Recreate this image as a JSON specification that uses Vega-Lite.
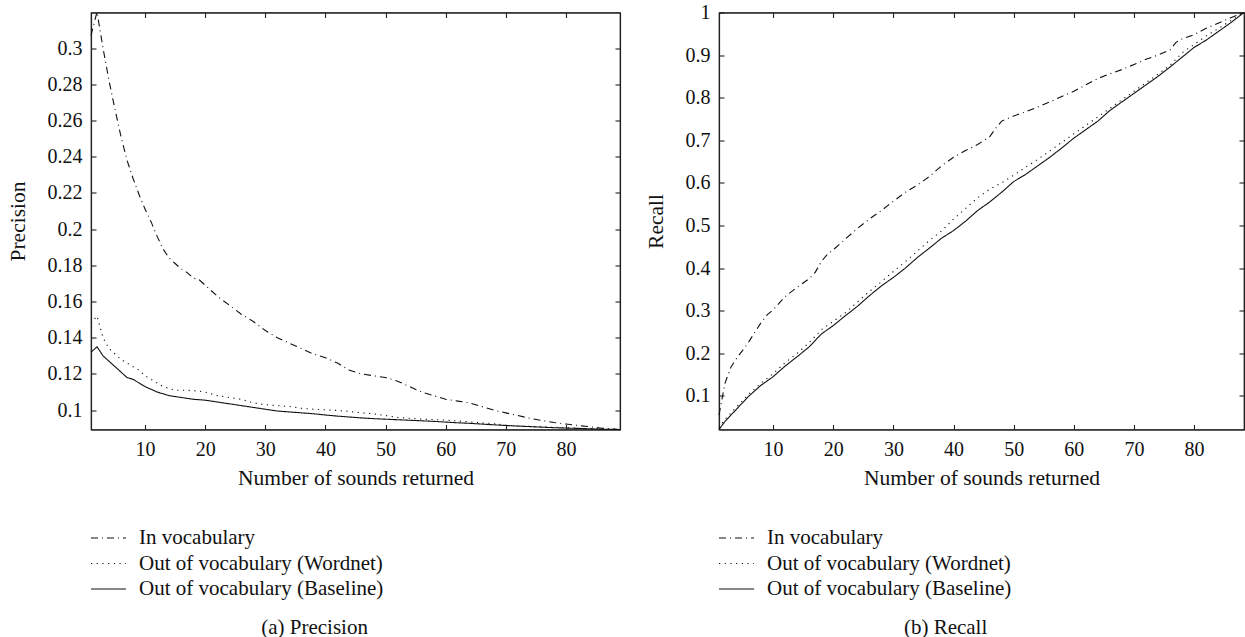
{
  "$schema": "https://vega.github.io/schema/vega-lite/v6.json",
  "padding": {"left": 6, "top": 1.5, "right": 0, "bottom": 0},
  "background": "white",
  "spacing": 21,
  "config": {
    "font": "Liberation Serif",
    "view": {"stroke": "#222", "strokeWidth": 1.2},
    "axis": {
      "domainColor": "#222", "tickColor": "#222", "labelColor": "#111", "titleColor": "#111",
      "labelFont": "Liberation Serif", "titleFont": "Liberation Serif",
      "labelFontSize": 20, "titleFontSize": 21.5, "titleFontWeight": "normal",
      "grid": false, "tickSize": -5, "tickWidth": 1.1, "domainWidth": 1.2
    },
    "legend": {
      "labelFont": "Liberation Serif", "labelFontSize": 21, "labelColor": "#111",
      "labelLimit": 400, "rowPadding": 1.5
    },
    "title": {"font": "Liberation Serif", "fontSize": 21, "fontWeight": "normal", "color": "#111"}
  },
  "datasets": {
    "precision": [
      {"n": 1, "v": 0.307, "s": "In vocabulary"},
      {"n": 2, "v": 0.320, "s": "In vocabulary"},
      {"n": 3, "v": 0.300, "s": "In vocabulary"},
      {"n": 4, "v": 0.282, "s": "In vocabulary"},
      {"n": 5, "v": 0.266, "s": "In vocabulary"},
      {"n": 6, "v": 0.251, "s": "In vocabulary"},
      {"n": 7, "v": 0.238, "s": "In vocabulary"},
      {"n": 8, "v": 0.228, "s": "In vocabulary"},
      {"n": 9, "v": 0.219, "s": "In vocabulary"},
      {"n": 10, "v": 0.211, "s": "In vocabulary"},
      {"n": 11, "v": 0.204, "s": "In vocabulary"},
      {"n": 12, "v": 0.196, "s": "In vocabulary"},
      {"n": 13, "v": 0.189, "s": "In vocabulary"},
      {"n": 14, "v": 0.184, "s": "In vocabulary"},
      {"n": 15, "v": 0.181, "s": "In vocabulary"},
      {"n": 16, "v": 0.178, "s": "In vocabulary"},
      {"n": 17, "v": 0.176, "s": "In vocabulary"},
      {"n": 18, "v": 0.173, "s": "In vocabulary"},
      {"n": 19, "v": 0.172, "s": "In vocabulary"},
      {"n": 20, "v": 0.169, "s": "In vocabulary"},
      {"n": 22, "v": 0.163, "s": "In vocabulary"},
      {"n": 24, "v": 0.158, "s": "In vocabulary"},
      {"n": 26, "v": 0.153, "s": "In vocabulary"},
      {"n": 28, "v": 0.149, "s": "In vocabulary"},
      {"n": 30, "v": 0.144, "s": "In vocabulary"},
      {"n": 32, "v": 0.140, "s": "In vocabulary"},
      {"n": 34, "v": 0.137, "s": "In vocabulary"},
      {"n": 36, "v": 0.134, "s": "In vocabulary"},
      {"n": 38, "v": 0.131, "s": "In vocabulary"},
      {"n": 40, "v": 0.129, "s": "In vocabulary"},
      {"n": 42, "v": 0.126, "s": "In vocabulary"},
      {"n": 44, "v": 0.122, "s": "In vocabulary"},
      {"n": 46, "v": 0.120, "s": "In vocabulary"},
      {"n": 48, "v": 0.119, "s": "In vocabulary"},
      {"n": 50, "v": 0.118, "s": "In vocabulary"},
      {"n": 52, "v": 0.116, "s": "In vocabulary"},
      {"n": 54, "v": 0.113, "s": "In vocabulary"},
      {"n": 56, "v": 0.110, "s": "In vocabulary"},
      {"n": 58, "v": 0.108, "s": "In vocabulary"},
      {"n": 60, "v": 0.106, "s": "In vocabulary"},
      {"n": 62, "v": 0.105, "s": "In vocabulary"},
      {"n": 64, "v": 0.104, "s": "In vocabulary"},
      {"n": 66, "v": 0.102, "s": "In vocabulary"},
      {"n": 68, "v": 0.100, "s": "In vocabulary"},
      {"n": 70, "v": 0.0985, "s": "In vocabulary"},
      {"n": 72, "v": 0.097, "s": "In vocabulary"},
      {"n": 74, "v": 0.0955, "s": "In vocabulary"},
      {"n": 76, "v": 0.0943, "s": "In vocabulary"},
      {"n": 78, "v": 0.0932, "s": "In vocabulary"},
      {"n": 80, "v": 0.0923, "s": "In vocabulary"},
      {"n": 82, "v": 0.0915, "s": "In vocabulary"},
      {"n": 84, "v": 0.0908, "s": "In vocabulary"},
      {"n": 86, "v": 0.0900, "s": "In vocabulary"},
      {"n": 89, "v": 0.0893, "s": "In vocabulary"},
      {"n": 1, "v": 0.148, "s": "Out of vocabulary (Wordnet)"},
      {"n": 2, "v": 0.152, "s": "Out of vocabulary (Wordnet)"},
      {"n": 3, "v": 0.140, "s": "Out of vocabulary (Wordnet)"},
      {"n": 4, "v": 0.134, "s": "Out of vocabulary (Wordnet)"},
      {"n": 5, "v": 0.131, "s": "Out of vocabulary (Wordnet)"},
      {"n": 6, "v": 0.128, "s": "Out of vocabulary (Wordnet)"},
      {"n": 7, "v": 0.126, "s": "Out of vocabulary (Wordnet)"},
      {"n": 8, "v": 0.124, "s": "Out of vocabulary (Wordnet)"},
      {"n": 9, "v": 0.122, "s": "Out of vocabulary (Wordnet)"},
      {"n": 10, "v": 0.119, "s": "Out of vocabulary (Wordnet)"},
      {"n": 11, "v": 0.117, "s": "Out of vocabulary (Wordnet)"},
      {"n": 12, "v": 0.115, "s": "Out of vocabulary (Wordnet)"},
      {"n": 13, "v": 0.113, "s": "Out of vocabulary (Wordnet)"},
      {"n": 14, "v": 0.112, "s": "Out of vocabulary (Wordnet)"},
      {"n": 15, "v": 0.111, "s": "Out of vocabulary (Wordnet)"},
      {"n": 17, "v": 0.111, "s": "Out of vocabulary (Wordnet)"},
      {"n": 19, "v": 0.1105, "s": "Out of vocabulary (Wordnet)"},
      {"n": 20, "v": 0.110, "s": "Out of vocabulary (Wordnet)"},
      {"n": 22, "v": 0.108, "s": "Out of vocabulary (Wordnet)"},
      {"n": 24, "v": 0.107, "s": "Out of vocabulary (Wordnet)"},
      {"n": 26, "v": 0.106, "s": "Out of vocabulary (Wordnet)"},
      {"n": 28, "v": 0.104, "s": "Out of vocabulary (Wordnet)"},
      {"n": 30, "v": 0.103, "s": "Out of vocabulary (Wordnet)"},
      {"n": 32, "v": 0.1025, "s": "Out of vocabulary (Wordnet)"},
      {"n": 34, "v": 0.102, "s": "Out of vocabulary (Wordnet)"},
      {"n": 36, "v": 0.101, "s": "Out of vocabulary (Wordnet)"},
      {"n": 38, "v": 0.1005, "s": "Out of vocabulary (Wordnet)"},
      {"n": 40, "v": 0.1002, "s": "Out of vocabulary (Wordnet)"},
      {"n": 42, "v": 0.0998, "s": "Out of vocabulary (Wordnet)"},
      {"n": 44, "v": 0.0993, "s": "Out of vocabulary (Wordnet)"},
      {"n": 46, "v": 0.0985, "s": "Out of vocabulary (Wordnet)"},
      {"n": 48, "v": 0.098, "s": "Out of vocabulary (Wordnet)"},
      {"n": 50, "v": 0.097, "s": "Out of vocabulary (Wordnet)"},
      {"n": 52, "v": 0.096, "s": "Out of vocabulary (Wordnet)"},
      {"n": 54, "v": 0.0955, "s": "Out of vocabulary (Wordnet)"},
      {"n": 56, "v": 0.095, "s": "Out of vocabulary (Wordnet)"},
      {"n": 58, "v": 0.0948, "s": "Out of vocabulary (Wordnet)"},
      {"n": 60, "v": 0.0945, "s": "Out of vocabulary (Wordnet)"},
      {"n": 62, "v": 0.094, "s": "Out of vocabulary (Wordnet)"},
      {"n": 64, "v": 0.0935, "s": "Out of vocabulary (Wordnet)"},
      {"n": 66, "v": 0.093, "s": "Out of vocabulary (Wordnet)"},
      {"n": 68, "v": 0.0925, "s": "Out of vocabulary (Wordnet)"},
      {"n": 70, "v": 0.0918, "s": "Out of vocabulary (Wordnet)"},
      {"n": 72, "v": 0.0912, "s": "Out of vocabulary (Wordnet)"},
      {"n": 74, "v": 0.091, "s": "Out of vocabulary (Wordnet)"},
      {"n": 76, "v": 0.0907, "s": "Out of vocabulary (Wordnet)"},
      {"n": 78, "v": 0.0905, "s": "Out of vocabulary (Wordnet)"},
      {"n": 80, "v": 0.0903, "s": "Out of vocabulary (Wordnet)"},
      {"n": 82, "v": 0.0900, "s": "Out of vocabulary (Wordnet)"},
      {"n": 84, "v": 0.0898, "s": "Out of vocabulary (Wordnet)"},
      {"n": 86, "v": 0.0895, "s": "Out of vocabulary (Wordnet)"},
      {"n": 89, "v": 0.0893, "s": "Out of vocabulary (Wordnet)"},
      {"n": 1, "v": 0.132, "s": "Out of vocabulary (Baseline)"},
      {"n": 2, "v": 0.135, "s": "Out of vocabulary (Baseline)"},
      {"n": 3, "v": 0.130, "s": "Out of vocabulary (Baseline)"},
      {"n": 4, "v": 0.127, "s": "Out of vocabulary (Baseline)"},
      {"n": 5, "v": 0.124, "s": "Out of vocabulary (Baseline)"},
      {"n": 6, "v": 0.121, "s": "Out of vocabulary (Baseline)"},
      {"n": 7, "v": 0.118, "s": "Out of vocabulary (Baseline)"},
      {"n": 8, "v": 0.117, "s": "Out of vocabulary (Baseline)"},
      {"n": 9, "v": 0.115, "s": "Out of vocabulary (Baseline)"},
      {"n": 10, "v": 0.113, "s": "Out of vocabulary (Baseline)"},
      {"n": 11, "v": 0.1115, "s": "Out of vocabulary (Baseline)"},
      {"n": 12, "v": 0.110, "s": "Out of vocabulary (Baseline)"},
      {"n": 13, "v": 0.109, "s": "Out of vocabulary (Baseline)"},
      {"n": 14, "v": 0.108, "s": "Out of vocabulary (Baseline)"},
      {"n": 15, "v": 0.1075, "s": "Out of vocabulary (Baseline)"},
      {"n": 16, "v": 0.107, "s": "Out of vocabulary (Baseline)"},
      {"n": 18, "v": 0.106, "s": "Out of vocabulary (Baseline)"},
      {"n": 20, "v": 0.1055, "s": "Out of vocabulary (Baseline)"},
      {"n": 22, "v": 0.1045, "s": "Out of vocabulary (Baseline)"},
      {"n": 24, "v": 0.1035, "s": "Out of vocabulary (Baseline)"},
      {"n": 26, "v": 0.1025, "s": "Out of vocabulary (Baseline)"},
      {"n": 28, "v": 0.1015, "s": "Out of vocabulary (Baseline)"},
      {"n": 30, "v": 0.1005, "s": "Out of vocabulary (Baseline)"},
      {"n": 32, "v": 0.0995, "s": "Out of vocabulary (Baseline)"},
      {"n": 34, "v": 0.099, "s": "Out of vocabulary (Baseline)"},
      {"n": 36, "v": 0.0985, "s": "Out of vocabulary (Baseline)"},
      {"n": 38, "v": 0.098, "s": "Out of vocabulary (Baseline)"},
      {"n": 40, "v": 0.0973, "s": "Out of vocabulary (Baseline)"},
      {"n": 42, "v": 0.0967, "s": "Out of vocabulary (Baseline)"},
      {"n": 44, "v": 0.0962, "s": "Out of vocabulary (Baseline)"},
      {"n": 46, "v": 0.0957, "s": "Out of vocabulary (Baseline)"},
      {"n": 48, "v": 0.0953, "s": "Out of vocabulary (Baseline)"},
      {"n": 50, "v": 0.095, "s": "Out of vocabulary (Baseline)"},
      {"n": 52, "v": 0.0947, "s": "Out of vocabulary (Baseline)"},
      {"n": 54, "v": 0.0944, "s": "Out of vocabulary (Baseline)"},
      {"n": 56, "v": 0.0941, "s": "Out of vocabulary (Baseline)"},
      {"n": 58, "v": 0.0938, "s": "Out of vocabulary (Baseline)"},
      {"n": 60, "v": 0.0934, "s": "Out of vocabulary (Baseline)"},
      {"n": 62, "v": 0.0930, "s": "Out of vocabulary (Baseline)"},
      {"n": 64, "v": 0.0927, "s": "Out of vocabulary (Baseline)"},
      {"n": 66, "v": 0.0923, "s": "Out of vocabulary (Baseline)"},
      {"n": 68, "v": 0.0919, "s": "Out of vocabulary (Baseline)"},
      {"n": 70, "v": 0.0915, "s": "Out of vocabulary (Baseline)"},
      {"n": 72, "v": 0.0912, "s": "Out of vocabulary (Baseline)"},
      {"n": 74, "v": 0.0909, "s": "Out of vocabulary (Baseline)"},
      {"n": 76, "v": 0.0906, "s": "Out of vocabulary (Baseline)"},
      {"n": 78, "v": 0.0903, "s": "Out of vocabulary (Baseline)"},
      {"n": 80, "v": 0.0901, "s": "Out of vocabulary (Baseline)"},
      {"n": 82, "v": 0.0899, "s": "Out of vocabulary (Baseline)"},
      {"n": 84, "v": 0.0897, "s": "Out of vocabulary (Baseline)"},
      {"n": 86, "v": 0.0895, "s": "Out of vocabulary (Baseline)"},
      {"n": 89, "v": 0.0893, "s": "Out of vocabulary (Baseline)"}
    ],
    "recall": [
      {"n": 1, "v": 0.055, "s": "In vocabulary"},
      {"n": 2, "v": 0.13, "s": "In vocabulary"},
      {"n": 3, "v": 0.168, "s": "In vocabulary"},
      {"n": 4, "v": 0.19, "s": "In vocabulary"},
      {"n": 5, "v": 0.208, "s": "In vocabulary"},
      {"n": 6, "v": 0.228, "s": "In vocabulary"},
      {"n": 7, "v": 0.25, "s": "In vocabulary"},
      {"n": 8, "v": 0.272, "s": "In vocabulary"},
      {"n": 9, "v": 0.29, "s": "In vocabulary"},
      {"n": 10, "v": 0.302, "s": "In vocabulary"},
      {"n": 12, "v": 0.333, "s": "In vocabulary"},
      {"n": 14, "v": 0.355, "s": "In vocabulary"},
      {"n": 16, "v": 0.375, "s": "In vocabulary"},
      {"n": 17, "v": 0.39, "s": "In vocabulary"},
      {"n": 18, "v": 0.415, "s": "In vocabulary"},
      {"n": 19, "v": 0.432, "s": "In vocabulary"},
      {"n": 20, "v": 0.443, "s": "In vocabulary"},
      {"n": 22, "v": 0.468, "s": "In vocabulary"},
      {"n": 24, "v": 0.493, "s": "In vocabulary"},
      {"n": 26, "v": 0.515, "s": "In vocabulary"},
      {"n": 28, "v": 0.535, "s": "In vocabulary"},
      {"n": 30, "v": 0.557, "s": "In vocabulary"},
      {"n": 32, "v": 0.578, "s": "In vocabulary"},
      {"n": 34, "v": 0.595, "s": "In vocabulary"},
      {"n": 36, "v": 0.615, "s": "In vocabulary"},
      {"n": 38, "v": 0.64, "s": "In vocabulary"},
      {"n": 40, "v": 0.66, "s": "In vocabulary"},
      {"n": 42, "v": 0.676, "s": "In vocabulary"},
      {"n": 44, "v": 0.69, "s": "In vocabulary"},
      {"n": 46, "v": 0.708, "s": "In vocabulary"},
      {"n": 47, "v": 0.728, "s": "In vocabulary"},
      {"n": 48, "v": 0.745, "s": "In vocabulary"},
      {"n": 50, "v": 0.757, "s": "In vocabulary"},
      {"n": 52, "v": 0.767, "s": "In vocabulary"},
      {"n": 54, "v": 0.778, "s": "In vocabulary"},
      {"n": 56, "v": 0.79, "s": "In vocabulary"},
      {"n": 58, "v": 0.803, "s": "In vocabulary"},
      {"n": 60, "v": 0.815, "s": "In vocabulary"},
      {"n": 62, "v": 0.83, "s": "In vocabulary"},
      {"n": 64, "v": 0.845, "s": "In vocabulary"},
      {"n": 66, "v": 0.856, "s": "In vocabulary"},
      {"n": 68, "v": 0.866, "s": "In vocabulary"},
      {"n": 70, "v": 0.878, "s": "In vocabulary"},
      {"n": 72, "v": 0.89, "s": "In vocabulary"},
      {"n": 74, "v": 0.9, "s": "In vocabulary"},
      {"n": 76, "v": 0.912, "s": "In vocabulary"},
      {"n": 77, "v": 0.93, "s": "In vocabulary"},
      {"n": 78, "v": 0.938, "s": "In vocabulary"},
      {"n": 80, "v": 0.948, "s": "In vocabulary"},
      {"n": 82, "v": 0.963, "s": "In vocabulary"},
      {"n": 84, "v": 0.975, "s": "In vocabulary"},
      {"n": 86, "v": 0.987, "s": "In vocabulary"},
      {"n": 88.3, "v": 1.0, "s": "In vocabulary"},
      {"n": 1, "v": 0.025, "s": "Out of vocabulary (Wordnet)"},
      {"n": 2, "v": 0.045, "s": "Out of vocabulary (Wordnet)"},
      {"n": 4, "v": 0.075, "s": "Out of vocabulary (Wordnet)"},
      {"n": 6, "v": 0.105, "s": "Out of vocabulary (Wordnet)"},
      {"n": 8, "v": 0.13, "s": "Out of vocabulary (Wordnet)"},
      {"n": 10, "v": 0.152, "s": "Out of vocabulary (Wordnet)"},
      {"n": 12, "v": 0.178, "s": "Out of vocabulary (Wordnet)"},
      {"n": 14, "v": 0.2, "s": "Out of vocabulary (Wordnet)"},
      {"n": 16, "v": 0.225, "s": "Out of vocabulary (Wordnet)"},
      {"n": 18, "v": 0.255, "s": "Out of vocabulary (Wordnet)"},
      {"n": 20, "v": 0.275, "s": "Out of vocabulary (Wordnet)"},
      {"n": 22, "v": 0.295, "s": "Out of vocabulary (Wordnet)"},
      {"n": 24, "v": 0.32, "s": "Out of vocabulary (Wordnet)"},
      {"n": 26, "v": 0.345, "s": "Out of vocabulary (Wordnet)"},
      {"n": 28, "v": 0.368, "s": "Out of vocabulary (Wordnet)"},
      {"n": 30, "v": 0.392, "s": "Out of vocabulary (Wordnet)"},
      {"n": 32, "v": 0.415, "s": "Out of vocabulary (Wordnet)"},
      {"n": 34, "v": 0.44, "s": "Out of vocabulary (Wordnet)"},
      {"n": 36, "v": 0.465, "s": "Out of vocabulary (Wordnet)"},
      {"n": 38, "v": 0.487, "s": "Out of vocabulary (Wordnet)"},
      {"n": 40, "v": 0.515, "s": "Out of vocabulary (Wordnet)"},
      {"n": 42, "v": 0.54, "s": "Out of vocabulary (Wordnet)"},
      {"n": 44, "v": 0.565, "s": "Out of vocabulary (Wordnet)"},
      {"n": 46, "v": 0.585, "s": "Out of vocabulary (Wordnet)"},
      {"n": 48, "v": 0.6, "s": "Out of vocabulary (Wordnet)"},
      {"n": 50, "v": 0.618, "s": "Out of vocabulary (Wordnet)"},
      {"n": 52, "v": 0.637, "s": "Out of vocabulary (Wordnet)"},
      {"n": 54, "v": 0.655, "s": "Out of vocabulary (Wordnet)"},
      {"n": 56, "v": 0.675, "s": "Out of vocabulary (Wordnet)"},
      {"n": 58, "v": 0.695, "s": "Out of vocabulary (Wordnet)"},
      {"n": 60, "v": 0.715, "s": "Out of vocabulary (Wordnet)"},
      {"n": 62, "v": 0.735, "s": "Out of vocabulary (Wordnet)"},
      {"n": 64, "v": 0.755, "s": "Out of vocabulary (Wordnet)"},
      {"n": 66, "v": 0.775, "s": "Out of vocabulary (Wordnet)"},
      {"n": 68, "v": 0.795, "s": "Out of vocabulary (Wordnet)"},
      {"n": 70, "v": 0.815, "s": "Out of vocabulary (Wordnet)"},
      {"n": 72, "v": 0.835, "s": "Out of vocabulary (Wordnet)"},
      {"n": 74, "v": 0.855, "s": "Out of vocabulary (Wordnet)"},
      {"n": 76, "v": 0.876, "s": "Out of vocabulary (Wordnet)"},
      {"n": 78, "v": 0.905, "s": "Out of vocabulary (Wordnet)"},
      {"n": 80, "v": 0.925, "s": "Out of vocabulary (Wordnet)"},
      {"n": 82, "v": 0.945, "s": "Out of vocabulary (Wordnet)"},
      {"n": 84, "v": 0.962, "s": "Out of vocabulary (Wordnet)"},
      {"n": 86, "v": 0.98, "s": "Out of vocabulary (Wordnet)"},
      {"n": 88.3, "v": 1.0, "s": "Out of vocabulary (Wordnet)"},
      {"n": 1, "v": 0.021, "s": "Out of vocabulary (Baseline)"},
      {"n": 2, "v": 0.04, "s": "Out of vocabulary (Baseline)"},
      {"n": 4, "v": 0.07, "s": "Out of vocabulary (Baseline)"},
      {"n": 6, "v": 0.1, "s": "Out of vocabulary (Baseline)"},
      {"n": 8, "v": 0.125, "s": "Out of vocabulary (Baseline)"},
      {"n": 10, "v": 0.145, "s": "Out of vocabulary (Baseline)"},
      {"n": 12, "v": 0.17, "s": "Out of vocabulary (Baseline)"},
      {"n": 14, "v": 0.192, "s": "Out of vocabulary (Baseline)"},
      {"n": 16, "v": 0.215, "s": "Out of vocabulary (Baseline)"},
      {"n": 18, "v": 0.245, "s": "Out of vocabulary (Baseline)"},
      {"n": 20, "v": 0.265, "s": "Out of vocabulary (Baseline)"},
      {"n": 22, "v": 0.288, "s": "Out of vocabulary (Baseline)"},
      {"n": 24, "v": 0.31, "s": "Out of vocabulary (Baseline)"},
      {"n": 26, "v": 0.335, "s": "Out of vocabulary (Baseline)"},
      {"n": 28, "v": 0.358, "s": "Out of vocabulary (Baseline)"},
      {"n": 30, "v": 0.378, "s": "Out of vocabulary (Baseline)"},
      {"n": 32, "v": 0.4, "s": "Out of vocabulary (Baseline)"},
      {"n": 34, "v": 0.425, "s": "Out of vocabulary (Baseline)"},
      {"n": 36, "v": 0.447, "s": "Out of vocabulary (Baseline)"},
      {"n": 38, "v": 0.47, "s": "Out of vocabulary (Baseline)"},
      {"n": 40, "v": 0.488, "s": "Out of vocabulary (Baseline)"},
      {"n": 42, "v": 0.51, "s": "Out of vocabulary (Baseline)"},
      {"n": 44, "v": 0.535, "s": "Out of vocabulary (Baseline)"},
      {"n": 46, "v": 0.555, "s": "Out of vocabulary (Baseline)"},
      {"n": 48, "v": 0.578, "s": "Out of vocabulary (Baseline)"},
      {"n": 50, "v": 0.603, "s": "Out of vocabulary (Baseline)"},
      {"n": 52, "v": 0.62, "s": "Out of vocabulary (Baseline)"},
      {"n": 54, "v": 0.64, "s": "Out of vocabulary (Baseline)"},
      {"n": 56, "v": 0.66, "s": "Out of vocabulary (Baseline)"},
      {"n": 58, "v": 0.682, "s": "Out of vocabulary (Baseline)"},
      {"n": 60, "v": 0.705, "s": "Out of vocabulary (Baseline)"},
      {"n": 62, "v": 0.725, "s": "Out of vocabulary (Baseline)"},
      {"n": 64, "v": 0.745, "s": "Out of vocabulary (Baseline)"},
      {"n": 66, "v": 0.77, "s": "Out of vocabulary (Baseline)"},
      {"n": 68, "v": 0.79, "s": "Out of vocabulary (Baseline)"},
      {"n": 70, "v": 0.81, "s": "Out of vocabulary (Baseline)"},
      {"n": 72, "v": 0.83, "s": "Out of vocabulary (Baseline)"},
      {"n": 74, "v": 0.85, "s": "Out of vocabulary (Baseline)"},
      {"n": 76, "v": 0.872, "s": "Out of vocabulary (Baseline)"},
      {"n": 78, "v": 0.895, "s": "Out of vocabulary (Baseline)"},
      {"n": 80, "v": 0.918, "s": "Out of vocabulary (Baseline)"},
      {"n": 82, "v": 0.935, "s": "Out of vocabulary (Baseline)"},
      {"n": 84, "v": 0.955, "s": "Out of vocabulary (Baseline)"},
      {"n": 86, "v": 0.975, "s": "Out of vocabulary (Baseline)"},
      {"n": 88.3, "v": 1.0, "s": "Out of vocabulary (Baseline)"}
    ]
  },
  "hconcat": [
    {
      "width": 529,
      "height": 417,
      "data": {"name": "precision"},
      "title": {"text": "(a)  Precision", "orient": "bottom", "anchor": "middle", "frame": "bounds", "offset": 17},
      "layer": [
        {
          "mark": {"type": "line", "strokeWidth": 1.1, "color": "#111"},
          "encoding": {
            "x": {"field": "n", "type": "quantitative", "scale": {"domain": [1, 89], "nice": false, "zero": false},
                  "axis": {"orient": "bottom", "values": [10, 20, 30, 40, 50, 60, 70, 80], "title": "Number of sounds returned", "labelPadding": 15, "titlePadding": 8}},
            "y": {"field": "v", "type": "quantitative", "scale": {"domain": [0.0893, 0.3197], "nice": false, "zero": false},
                  "axis": {"orient": "left", "values": [0.1, 0.12, 0.14, 0.16, 0.18, 0.2, 0.22, 0.24, 0.26, 0.28, 0.3], "format": ".2~f", "title": "Precision", "labelPadding": 14, "titlePadding": 18}},
            "strokeDash": {"field": "s", "type": "nominal",
                  "scale": {"domain": ["In vocabulary", "Out of vocabulary (Wordnet)", "Out of vocabulary (Baseline)"], "range": [[7, 4, 1, 4], [1.2, 4.5], [1, 0]]},
                  "legend": {"orient": "none", "legendX": 4, "legendY": 512, "title": null, "symbolType": "M-1.4,0H1.4", "symbolSize": 625, "symbolStrokeWidth": 1.1, "symbolStrokeColor": "#111", "labelOffset": 17}}
          }
        },
        {
          "mark": {"type": "line", "opacity": 0},
          "encoding": {
            "x": {"field": "n", "type": "quantitative", "axis": {"orient": "top", "values": [10, 20, 30, 40, 50, 60, 70, 80], "labels": false, "title": null}},
            "y": {"field": "v", "type": "quantitative", "axis": {"orient": "right", "values": [0.1, 0.12, 0.14, 0.16, 0.18, 0.2, 0.22, 0.24, 0.26, 0.28, 0.3], "labels": false, "title": null}},
            "detail": {"field": "s"}
          }
        }
      ],
      "resolve": {"axis": {"x": "independent", "y": "independent"}}
    },
    {
      "width": 525,
      "height": 417,
      "data": {"name": "recall"},
      "title": {"text": "(b)  Recall", "orient": "bottom", "anchor": "middle", "frame": "bounds", "offset": 17},
      "layer": [
        {
          "mark": {"type": "line", "strokeWidth": 1.1, "color": "#111"},
          "encoding": {
            "x": {"field": "n", "type": "quantitative", "scale": {"domain": [1, 88.3], "nice": false, "zero": false},
                  "axis": {"orient": "bottom", "values": [10, 20, 30, 40, 50, 60, 70, 80], "title": "Number of sounds returned", "labelPadding": 15, "titlePadding": 8}},
            "y": {"field": "v", "type": "quantitative", "scale": {"domain": [0.021, 1], "nice": false, "zero": false},
                  "axis": {"orient": "left", "values": [0.1, 0.2, 0.3, 0.4, 0.5, 0.6, 0.7, 0.8, 0.9, 1], "format": ".1~f", "title": "Recall", "labelPadding": 14, "titlePadding": 18}},
            "strokeDash": {"field": "s", "type": "nominal",
                  "scale": {"domain": ["In vocabulary", "Out of vocabulary (Wordnet)", "Out of vocabulary (Baseline)"], "range": [[7, 4, 1, 4], [1.2, 4.5], [1, 0]]},
                  "legend": {"orient": "none", "legendX": 4, "legendY": 512, "title": null, "symbolType": "M-1.4,0H1.4", "symbolSize": 625, "symbolStrokeWidth": 1.1, "symbolStrokeColor": "#111", "labelOffset": 17}}
          }
        },
        {
          "mark": {"type": "line", "opacity": 0},
          "encoding": {
            "x": {"field": "n", "type": "quantitative", "axis": {"orient": "top", "values": [10, 20, 30, 40, 50, 60, 70, 80], "labels": false, "title": null}},
            "y": {"field": "v", "type": "quantitative", "axis": {"orient": "right", "values": [0.1, 0.2, 0.3, 0.4, 0.5, 0.6, 0.7, 0.8, 0.9, 1], "labels": false, "title": null}},
            "detail": {"field": "s"}
          }
        }
      ],
      "resolve": {"axis": {"x": "independent", "y": "independent"}}
    }
  ],
  "resolve": {"scale": {"strokeDash": "independent"}, "legend": {"strokeDash": "independent"}}
}
